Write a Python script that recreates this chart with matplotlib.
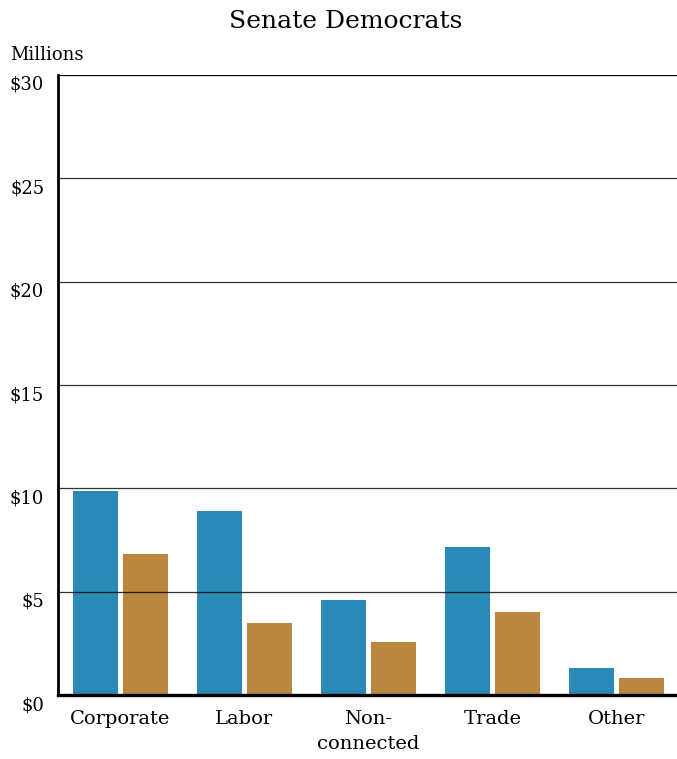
import matplotlib
matplotlib.use("Agg")
import matplotlib.pyplot as plt
import matplotlib.transforms as mtransforms
import numpy as np

# 資料
categories = ["Corporate", "Labor", "Non-\nconnected", "Trade", "Other"]
blue_values = [9.87, 8.9, 4.6, 7.16, 1.31]
gold_values = [6.82, 3.48, 2.56, 4.02, 0.82]
y_ticks = [0, 5, 10, 15, 20, 25, 30]
y_labels = ["$0", "$5", "$10", "$15", "$20", "$25", "$30"]

BLUE = "#2a89b6"
GOLD = "#b9873f"

plt.rcParams["font.family"] = ["DejaVu Serif"]

fig = plt.figure(figsize=(6.77, 7.59), dpi=100)
ax = fig.add_axes([0.0857, 0.0843, 0.9143, 0.8169])

x = np.arange(len(categories))
w = 0.363
off = 0.2016
ax.bar(x - off, blue_values, width=w, color=BLUE, zorder=2)
ax.bar(x + off, gold_values, width=w, color=GOLD, zorder=2)

# 格線畫在長條之上
for yv in y_ticks[1:]:
    ax.axhline(yv, color="black", linewidth=0.9, alpha=0.8 if yv < 30 else 1.0, zorder=3)

ax.set_xlim(-0.504, 4.49)
ax.set_ylim(0, 30)
ax.set_yticks(y_ticks)
ax.set_yticklabels(y_labels, fontsize=13)
ax.set_xticks(x)
ax.set_xticklabels(categories, fontsize=14, linespacing=1.45)
ax.tick_params(axis="both", length=0)
ax.tick_params(axis="y", pad=10)
ax.tick_params(axis="x", pad=11)

# 刻度文字往下偏移
offset = mtransforms.ScaledTranslation(0, -0.08, fig.dpi_scale_trans)
for lbl in ax.get_yticklabels():
    lbl.set_transform(lbl.get_transform() + offset)

for s in ["top", "right"]:
    ax.spines[s].set_visible(False)
ax.spines["left"].set_linewidth(2.0)
ax.spines["bottom"].set_linewidth(2.4)
ax.spines["left"].set_zorder(4)
ax.spines["bottom"].set_zorder(4)

fig.text(0.51, 0.972, "Senate Democrats", ha="center", va="center", fontsize=18)
fig.text(0.015, 0.927, "Millions", ha="left", va="center", fontsize=13)

fig.savefig("out.png", dpi=100)
